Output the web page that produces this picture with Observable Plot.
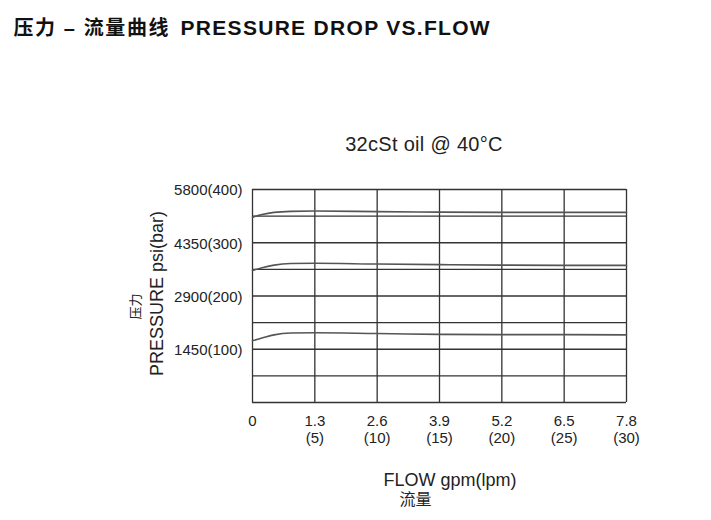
<!DOCTYPE html>
<html><head><meta charset="utf-8">
<script src="https://cdn.jsdelivr.net/npm/d3@7"></script>
<script src="https://cdn.jsdelivr.net/npm/@observablehq/plot@0.6"></script>
<style>
body{margin:0;background:#fff;}
#chart{position:relative;width:711px;height:520px;}
g.ttl text{letter-spacing:1.3px}
g.ttlcn text{letter-spacing:1.6px}
g.sub text{letter-spacing:0.3px}
</style></head><body><div id="chart"></div>
<script>
// Flow (gpm) sample points along each curve
const flow = [0, 0.2, 0.45, 0.8, 1.3, 2.6, 3.9, 5.2, 6.5, 7.8];
// Pressure (bar) for the three setting curves
const curveHigh = [348, 353, 357, 359, 359.5, 358.5, 357.5, 357, 357, 357];
const curveMid  = [248, 253, 258, 261, 261.5, 260, 259, 258, 257.5, 257.5];
const curveLow  = [116, 121, 127, 130.5, 131, 129.5, 128, 127.5, 127.5, 127];
const seriesNames = ["high", "mid", "low"];

const xTicks = [0, 1.3, 2.6, 3.9, 5.2, 6.5, 7.8];
const xTickLabels = ["0", "1.3", "2.6", "3.9", "5.2", "6.5", "7.8"];
const lpmLabels = ["", "(5)", "(10)", "(15)", "(20)", "(25)", "(30)"];
const yTicks = [100, 200, 300, 400];
const yTickLabels = ["1450(100)", "2900(200)", "4350(300)", "5800(400)"];
const yGrid = [0, 50, 100, 150, 200, 250, 300, 350, 400];

const titleCn = "压力 – 流量曲线";
const titleEn = "PRESSURE DROP VS.FLOW";
const subtitle = "32cSt oil @ 40°C";
const yLabelEn = "PRESSURE psi(bar)";
const yLabelCn = "压力";
const xLabelEn = "FLOW gpm(lpm)";
const xLabelCn = "流量";

const rows = [];
[curveHigh, curveMid, curveLow].forEach((vals, s) =>
  vals.forEach((v, i) => rows.push({series: seriesNames[s], flow: flow[i], bar: v})));

const font = '"Liberation Sans", Arial, "Noto Sans CJK SC", sans-serif';

const chart = Plot.plot({
  width: 711, height: 520,
  marginLeft: 252, marginRight: 85, marginTop: 189, marginBottom: 118,
  x: {domain: [0, 7.8], axis: null},
  y: {domain: [0, 400], axis: null},
  style: {fontFamily: font, fontSize: "15px", color: "#222", background: "#fff", overflow: "visible"},
  marks: [
    Plot.ruleY(yGrid, {y: d => d, stroke: "#333", strokeWidth: 1.3}),
    Plot.ruleX(xTicks, {x: d => d, stroke: "#333", strokeWidth: 1.3}),
    Plot.line(rows, {x: "flow", y: "bar", z: "series", stroke: "#555", strokeWidth: 1.6, curve: "monotone-x"}),
    Plot.text(yTicks, {y: d => d, text: (d, i) => yTickLabels[i], frameAnchor: "left", textAnchor: "end", dx: -10, dy: 1, fontSize: 15}),
    Plot.text(xTicks, {x: d => d, text: (d, i) => xTickLabels[i], frameAnchor: "bottom", lineAnchor: "bottom", dy: 23, fontSize: 15}),
    Plot.text(xTicks, {x: d => d, text: (d, i) => lpmLabels[i], frameAnchor: "bottom", lineAnchor: "bottom", dy: 40, fontSize: 15}),
    Plot.text([titleCn], {text: d => d, frameAnchor: "top-left", textAnchor: "start", lineAnchor: "bottom", dx: -239, dy: -155, fontSize: 20, fontWeight: "bold", fill: "#111", className: "ttlcn"}),
    Plot.text([titleEn], {text: d => d, frameAnchor: "top-left", textAnchor: "start", lineAnchor: "bottom", dx: -72, dy: -155, fontSize: 21, fontWeight: "bold", fill: "#111", className: "ttl"}),
    Plot.text([subtitle], {text: d => d, frameAnchor: "top", lineAnchor: "bottom", dx: -15.5, dy: -39, fontSize: 20, className: "sub"}),
    Plot.text([yLabelEn], {text: d => d, frameAnchor: "left", textAnchor: "middle", lineAnchor: "middle", rotate: -90, dx: -95, dy: -2.5, fontSize: 18}),
    Plot.text([yLabelCn], {text: d => d, frameAnchor: "left", textAnchor: "middle", lineAnchor: "middle", rotate: -90, dx: -117, dy: 10.5, fontSize: 13}),
    Plot.text([xLabelEn], {text: d => d, frameAnchor: "bottom", lineAnchor: "bottom", dx: 10.5, dy: 83, fontSize: 18}),
    Plot.text([xLabelCn], {text: d => d, frameAnchor: "bottom", lineAnchor: "middle", dx: -24, dy: 97.5, fontSize: 16})
  ]
});
document.getElementById("chart").appendChild(chart);
</script></body></html>
